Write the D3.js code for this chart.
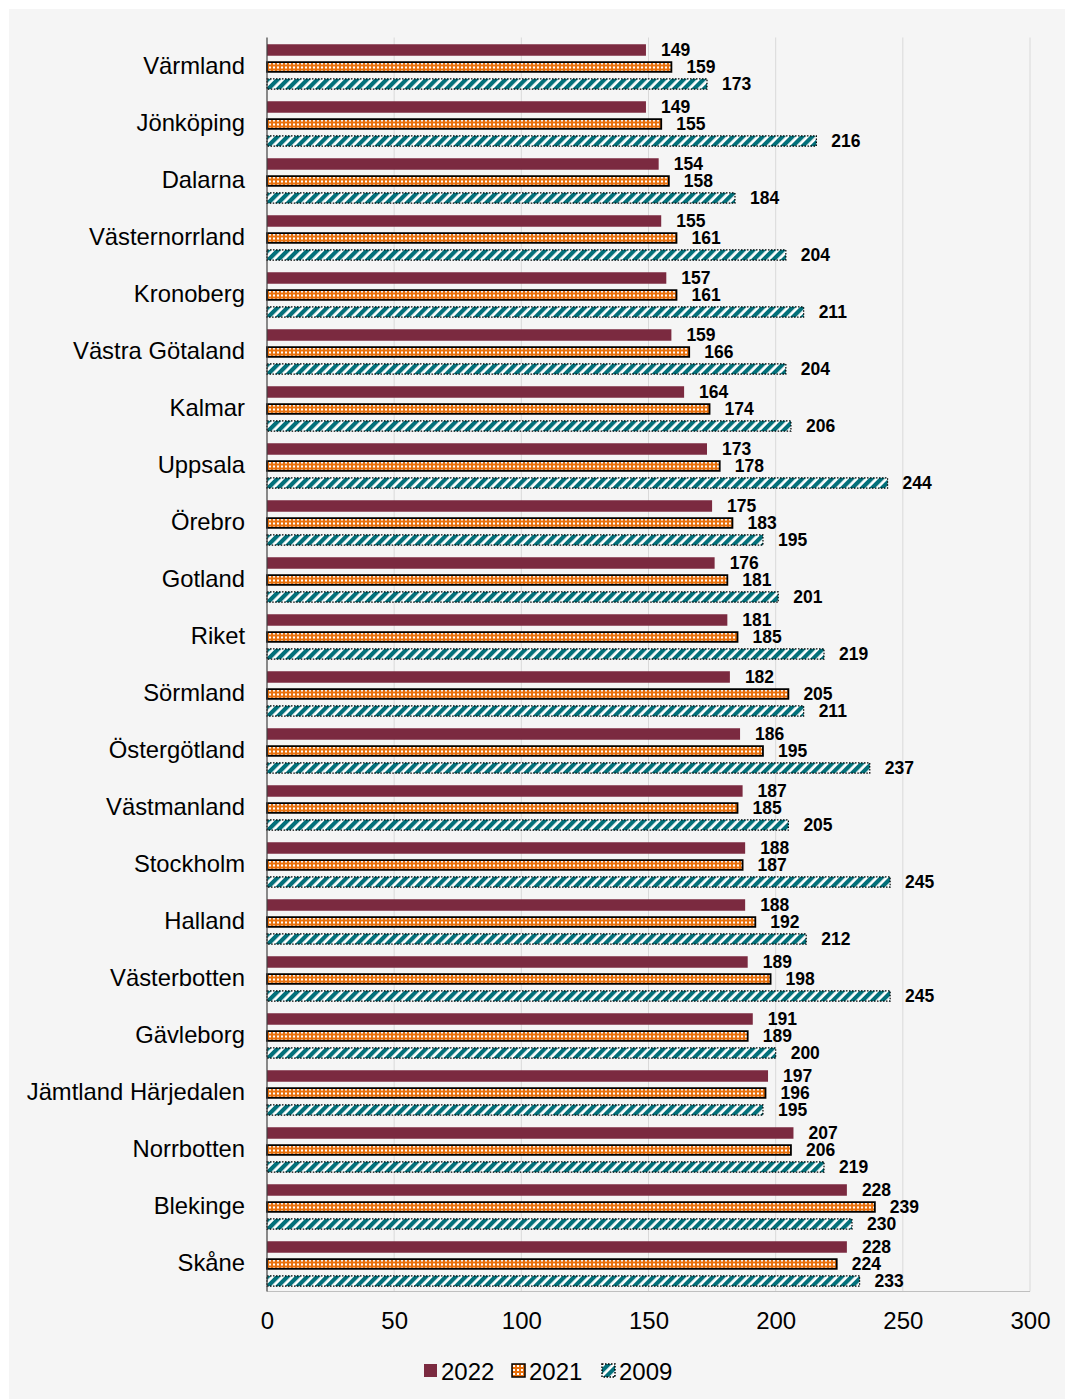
<!DOCTYPE html>
<html>
<head>
<meta charset="utf-8">
<script src="https://cdn.jsdelivr.net/npm/d3@7"></script>
<style>
  html, body { margin: 0; padding: 0; background: #ffffff; }
  svg { display: block; font-family: Arial, "Liberation Sans", sans-serif; }
</style>
</head>
<body>
<svg id="chart" width="1065" height="1399"></svg>
<script>
const regions = ["Värmland","Jönköping","Dalarna","Västernorrland","Kronoberg","Västra Götaland","Kalmar","Uppsala","Örebro","Gotland","Riket","Sörmland","Östergötland","Västmanland","Stockholm","Halland","Västerbotten","Gävleborg","Jämtland Härjedalen","Norrbotten","Blekinge","Skåne"];
const values2022 = [149,149,154,155,157,159,164,173,175,176,181,182,186,187,188,188,189,191,197,207,228,228];
const values2021 = [159,155,158,161,161,166,174,178,183,181,185,205,195,185,187,192,198,189,196,206,239,224];
const values2009 = [173,216,184,204,211,204,206,244,195,201,219,211,237,205,245,212,245,200,195,219,230,233];
const seriesNames = ["2022","2021","2009"];
const xTicks = [0,50,100,150,200,250,300];

const svg = d3.select("#chart");

// panel background
svg.append("rect").attr("x", 9).attr("y", 9).attr("width", 1056).attr("height", 1390).attr("fill", "#f5f5f5");

// fill patterns
const defs = svg.append("defs");
const dots = defs.append("pattern").attr("id", "pat2021").attr("patternUnits", "userSpaceOnUse")
  .attr("width", 4).attr("height", 4);
dots.append("rect").attr("width", 4).attr("height", 4).attr("fill", "#e8700c");
dots.append("rect").attr("x", 1).attr("y", 1).attr("width", 2).attr("height", 2).attr("fill", "#ffffff");

const stripes = defs.append("pattern").attr("id", "pat2009").attr("patternUnits", "userSpaceOnUse")
  .attr("width", 7).attr("height", 7).attr("patternTransform", "rotate(45)");
stripes.append("rect").attr("width", 7).attr("height", 7).attr("fill", "#ffffff");
stripes.append("rect").attr("width", 4.2).attr("height", 7).attr("fill", "#03707a");

const series = [
  { name: "2022", values: values2022, fill: "#7b2a40", stroke: "none", dash: null, sw: 0 },
  { name: "2021", values: values2021, fill: "url(#pat2021)", stroke: "#000000", dash: null, sw: 1.8 },
  { name: "2009", values: values2009, fill: "url(#pat2009)", stroke: "#000000", dash: "1.5,1.5", sw: 1.2 }
];

const plotLeft = 267, plotRight = 1030, plotTop = 37.5, plotBottom = 1291.5;

const x = d3.scaleLinear().domain([0, 300]).range([plotLeft, plotRight]);
const y = d3.scaleBand().domain(regions).range([plotTop, plotBottom]).paddingInner(0).paddingOuter(0);
const inner = d3.scaleBand().domain(seriesNames)
  .range([y.bandwidth()/2 - 21.75, y.bandwidth()/2 + 23.75]).paddingInner(0.324);

// gridlines
svg.append("g").selectAll("line").data(xTicks.filter(t => t > 0)).join("line")
  .attr("x1", d => x(d)).attr("x2", d => x(d))
  .attr("y1", plotTop).attr("y2", plotBottom)
  .attr("stroke", "#d9d9d9").attr("stroke-width", 1);
svg.append("line").attr("x1", plotLeft).attr("x2", plotRight).attr("y1", plotBottom).attr("y2", plotBottom)
  .attr("stroke", "#bfbfbf").attr("stroke-width", 1);

// bars
const groups = svg.append("g").selectAll("g").data(regions).join("g")
  .attr("transform", d => `translate(0,${y(d)})`);

series.forEach(s => {
  groups.append("rect")
    .attr("x", x(0))
    .attr("y", (d, i) => inner(s.name) + (s.sw ? s.sw/2 : 0))
    .attr("width", (d, i) => x(s.values[i]) - x(0))
    .attr("height", inner.bandwidth() - (s.sw ? s.sw : 0))
    .attr("fill", s.fill)
    .attr("stroke", s.stroke)
    .attr("stroke-width", s.sw)
    .attr("stroke-dasharray", s.dash);
  groups.append("text")
    .attr("x", (d, i) => x(s.values[i]) + 15)
    .attr("y", (d, i) => inner(s.name) + inner.bandwidth()/2)
    .attr("dy", "0.36em")
    .attr("font-size", 17.5).attr("font-weight", "bold").attr("fill", "#000")
    .text((d, i) => s.values[i]);
});

// left axis line
svg.append("line").attr("x1", plotLeft).attr("x2", plotLeft).attr("y1", plotTop).attr("y2", plotBottom)
  .attr("stroke", "#404040").attr("stroke-width", 1.2);

// category labels
svg.append("g").selectAll("text").data(regions).join("text")
  .attr("x", 245).attr("y", d => y(d) + y.bandwidth()/2)
  .attr("dy", "0.33em").attr("text-anchor", "end")
  .attr("font-size", 23.8).attr("fill", "#000")
  .text(d => d);

// x axis tick labels
const xAxis = d3.axisBottom(x).tickValues(xTicks).tickSize(0).tickPadding(0);
const xg = svg.append("g").attr("transform", `translate(0,${plotBottom})`).call(xAxis);
xg.select(".domain").remove();
xg.selectAll("text").attr("font-size", 24).attr("font-family", "Arial, 'Liberation Sans', sans-serif")
  .attr("fill", "#000").attr("y", 29).attr("dy", "0.36em");

// legend
const legend = svg.append("g");
const legendX = [424, 512, 602];
series.forEach((s, i) => {
  legend.append("rect").attr("x", legendX[i]).attr("y", 1364).attr("width", 13).attr("height", 13)
    .attr("fill", s.fill).attr("stroke", s.stroke).attr("stroke-width", s.sw ? 1.5 : 0)
    .attr("stroke-dasharray", s.dash);
  legend.append("text").attr("x", legendX[i] + 17).attr("y", 1371).attr("dy", "0.36em")
    .attr("font-size", 24).attr("fill", "#000").text(s.name);
});
</script>
</body>
</html>
